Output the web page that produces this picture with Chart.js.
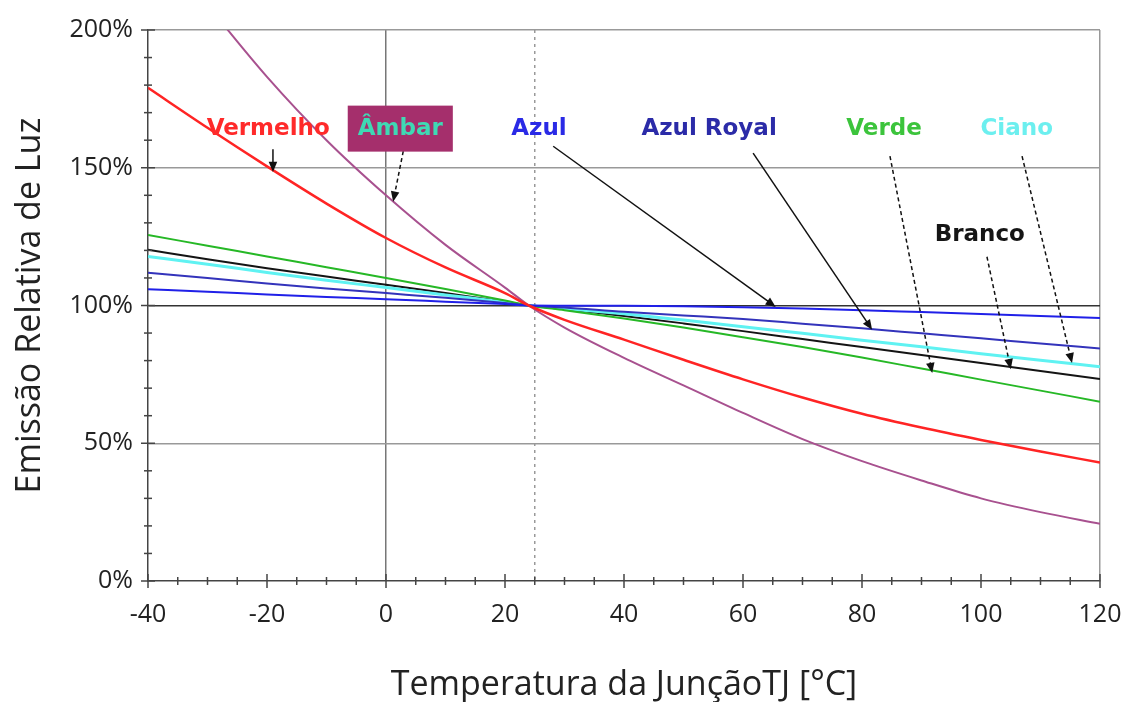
<!DOCTYPE html>
<html>
<head>
<meta charset="utf-8">
<script src="https://cdn.jsdelivr.net/npm/chart.js@4.4.1/dist/chart.umd.min.js"></script>
<style>
html, body { margin: 0; padding: 0; background: #fff; }
</style>
</head>
<body>
<canvas id="chart" width="1141" height="702"></canvas>
<script>
// Temperatura da junção (°C)
const temps = [-40, -30, -20, -10, 0, 10, 20, 24, 30, 40, 50, 60, 70, 80, 90, 100, 110, 120];

// Emissão relativa (%)
const vermelho  = [179, 164.5, 150.5, 137, 124.5, 113.8, 104.5, 100, 94.8, 87.6, 80.3, 73.2, 66.6, 60.7, 55.7, 51.2, 47, 43];
const ambar     = [null, 209, 183, 160, 140, 122, 106.5, 100, 92, 81, 71, 61, 51.5, 43.5, 36.5, 30, 25, 20.8];
const azul      = [105.9, 105, 104, 103.1, 102.3, 101.4, 100.5, 100, 99.95, 99.9, 99.7, 99.4, 98.9, 98.3, 97.6, 96.9, 96.2, 95.5];
const azulRoyal = [111.9, 110, 108, 106.2, 104.5, 102.8, 100.9, 100, 99.3, 97.7, 96.4, 95.1, 93.4, 91.7, 89.9, 88.1, 86.2, 84.4];
const verde     = [125.6, 121.7, 117.8, 113.9, 110, 106, 101.8, 100, 98.3, 95.3, 92, 88.5, 84.9, 81.1, 77.1, 73.1, 69.1, 65.1];
const ciano     = [117.8, 115, 112, 109.2, 106.5, 103.8, 101.2, 100, 98.9, 97, 94.7, 92.3, 89.9, 87.4, 85, 82.5, 80.1, 77.8];
const branco    = [120.2, 116.8, 113.5, 110.5, 107.5, 104.5, 101.4, 100, 98.7, 96.2, 93.5, 90.7, 87.8, 84.9, 82, 79.1, 76.2, 73.3];

const seriesNames = ["Vermelho", "Âmbar", "Azul", "Azul Royal", "Verde", "Ciano", "Branco"];
const seriesValues = [vermelho, ambar, azul, azulRoyal, verde, ciano, branco];
const lineColors = ["#ff2424", "#a8518f", "#2020e8", "#3333bb", "#26b826", "#5ff2f2", "#141414"];
const lineWidths = [2.5, 2, 2, 2, 2, 3, 2];

// callouts: label position and arrow ends, in chart units (°C, %)
const labelAt   = [[-19.8, 164.2], [2.4, 164.2], [25.7, 164.2], [54.3, 164.2], [83.7, 164.2], [106, 164.2], [99.8, 125.6]];
const labelInk  = ["#ff2a2a", "#3fd9b4", "#2a2ae6", "#2b2ba8", "#3cc43c", "#6cefef", "#151515"];
const arrowFrom = [[-19, 156.7], [2.9, 156], [28.1, 157.8], [61.7, 155.3], [84.7, 154.2], [106.9, 154.2], [101, 117.7]];
const arrowTo   = [[-19, 148.5], [1.2, 137.7], [65.5, 99.5], [81.7, 91.2], [91.8, 75.5], [115.3, 79.1], [105, 76.9]];
const arrowDash = [false, true, false, false, true, true, true];

const datasets = seriesNames.map((name, i) => ({
    label: name,
    data: temps.map((t, j) => ({ x: t, y: seriesValues[i][j] })),
    borderColor: lineColors[i],
    borderWidth: lineWidths[i],
    pointRadius: 0,
    cubicInterpolationMode: "monotone",
    spanGaps: true,
    fill: false
}));

// small tick marks crossing both axes
const tickMarks = {
    id: "tickMarks",
    afterDatasetsDraw(chart) {
        const { ctx, chartArea: a, scales: { x, y } } = chart;
        ctx.save();
        ctx.strokeStyle = "#444";
        ctx.lineWidth = 1.5;
        x.ticks.forEach(t => {
            const px = x.getPixelForValue(t.value);
            const len = t.value % 20 === 0 ? 7 : 4;
            ctx.beginPath();
            ctx.moveTo(px, a.bottom - len);
            ctx.lineTo(px, a.bottom + len);
            ctx.stroke();
        });
        y.ticks.forEach(t => {
            const py = y.getPixelForValue(t.value);
            const len = t.value % 50 === 0 ? 7 : 4;
            ctx.beginPath();
            ctx.moveTo(a.left - len, py);
            ctx.lineTo(a.left + len, py);
            ctx.stroke();
        });
        ctx.restore();
    }
};

// colored labels with arrows pointing at the curves
const callouts = {
    id: "callouts",
    afterDraw(chart) {
        const { ctx, scales: { x, y } } = chart;
        ctx.save();
        arrowFrom.forEach((from, i) => {
            const x1 = x.getPixelForValue(from[0]), y1 = y.getPixelForValue(from[1]);
            const x2 = x.getPixelForValue(arrowTo[i][0]), y2 = y.getPixelForValue(arrowTo[i][1]);
            const ang = Math.atan2(y2 - y1, x2 - x1);
            const head = 11;
            ctx.strokeStyle = "#111";
            ctx.fillStyle = "#111";
            ctx.lineWidth = 1.5;
            ctx.setLineDash(arrowDash[i] ? [4, 3] : []);
            ctx.beginPath();
            ctx.moveTo(x1, y1);
            ctx.lineTo(x2 - Math.cos(ang) * head * 0.8, y2 - Math.sin(ang) * head * 0.8);
            ctx.stroke();
            ctx.setLineDash([]);
            ctx.beginPath();
            ctx.moveTo(x2, y2);
            ctx.lineTo(x2 - head * Math.cos(ang - 0.4), y2 - head * Math.sin(ang - 0.4));
            ctx.lineTo(x2 - head * Math.cos(ang + 0.4), y2 - head * Math.sin(ang + 0.4));
            ctx.closePath();
            ctx.fill();
        });
        ctx.font = "bold 23px 'DejaVu Sans'";
        ctx.textAlign = "center";
        ctx.textBaseline = "middle";
        labelAt.forEach((pos, i) => {
            const px = x.getPixelForValue(pos[0]), py = y.getPixelForValue(pos[1]);
            if (seriesNames[i] === "Âmbar") {
                const w = ctx.measureText(seriesNames[i]).width + 20;
                ctx.fillStyle = "#a52f6c";
                ctx.fillRect(px - w / 2, py - 23, w, 46);
            }
            ctx.fillStyle = labelInk[i];
            ctx.fillText(seriesNames[i], px, py);
        });
        ctx.restore();
    }
};

new Chart(document.getElementById("chart"), {
    type: "line",
    data: { datasets },
    options: {
        responsive: false,
        animation: false,
        layout: { padding: { top: 22, right: 41, left: 0, bottom: 0 } },
        plugins: { legend: { display: false }, tooltip: { enabled: false } },
        scales: {
            x: {
                type: "linear",
                min: -40,
                max: 120,
                afterFit: s => { s.height = 121; },
                ticks: {
                    stepSize: 5,
                    autoSkip: false,
                    maxRotation: 0,
                    padding: 19,
                    color: "#222",
                    font: { family: "'Open Sans'", size: 25 },
                    callback: v => (v % 20 === 0 ? v : "")
                },
                grid: {
                    drawTicks: false,
                    lineWidth: 1.5,
                    color: c => {
                        const v = c.tick && c.tick.value;
                        if (v === 0) return "#777";
                        if (v === 25 || v === 120) return "#999";
                        return "rgba(0,0,0,0)";
                    }
                },
                border: {
                    color: "#444",
                    width: 1.5,
                    dash: c => (c.tick && c.tick.value === 25 ? [3, 4] : [])
                },
                title: {
                    display: true,
                    text: "Temperatura da JunçãoTJ [°C]",
                    color: "#222",
                    font: { family: "'Open Sans'", size: 34, lineHeight: 1.2 },
                    padding: { top: 0, bottom: -4 }
                }
            },
            y: {
                min: 0,
                max: 200,
                afterFit: s => { s.width = 148; },
                ticks: {
                    stepSize: 10,
                    autoSkip: false,
                    padding: 15,
                    color: "#222",
                    font: { family: "'Open Sans'", size: 25 },
                    callback: v => (v % 50 === 0 ? v + "%" : "")
                },
                grid: {
                    drawTicks: false,
                    lineWidth: 1.5,
                    color: c => {
                        const v = c.tick && c.tick.value;
                        if (v === 100) return "#333";
                        if (v === 50 || v === 150 || v === 200) return "#999";
                        return "rgba(0,0,0,0)";
                    }
                },
                border: { color: "#444", width: 1.5 },
                title: {
                    display: true,
                    text: "Emissão Relativa de Luz",
                    color: "#222",
                    font: { family: "'Open Sans'", size: 34, lineHeight: 1.2 },
                    padding: { top: 10, bottom: 0 }
                }
            }
        }
    },
    plugins: [tickMarks, callouts]
});
</script>
</body>
</html>
